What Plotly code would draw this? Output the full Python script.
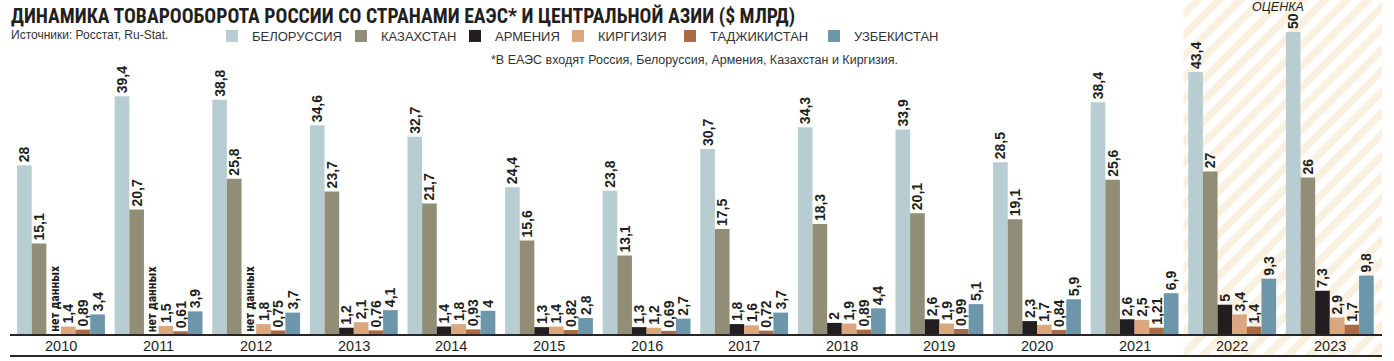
import plotly.graph_objects as go

years = ["2010", "2011", "2012", "2013", "2014", "2015", "2016",
         "2017", "2018", "2019", "2020", "2021", "2022", "2023"]
series_names = ["БЕЛОРУССИЯ", "КАЗАХСТАН", "АРМЕНИЯ", "КИРГИЗИЯ", "ТАДЖИКИСТАН", "УЗБЕКИСТАН"]
belarus = [28, 39.4, 38.8, 34.6, 32.7, 24.4, 23.8, 30.7, 34.3, 33.9, 28.5, 38.4, 43.4, 50]
kazakhstan = [15.1, 20.7, 25.8, 23.7, 21.7, 15.6, 13.1, 17.5, 18.3, 20.1, 19.1, 25.6, 27, 26]
armenia = [None, None, None, 1.2, 1.4, 1.3, 1.3, 1.8, 2, 2.6, 2.3, 2.6, 5, 7.3]
kyrgyzstan = [1.4, 1.5, 1.8, 2.1, 1.8, 1.4, 1.2, 1.6, 1.9, 1.9, 1.7, 2.5, 3.4, 2.9]
tajikistan = [0.89, 0.61, 0.75, 0.76, 0.93, 0.82, 0.69, 0.72, 0.89, 0.99, 0.84, 1.21, 1.4, 1.7]
uzbekistan = [3.4, 3.9, 3.7, 4.1, 4, 2.8, 2.7, 3.7, 4.4, 5.1, 5.9, 6.9, 9.3, 9.8]
no_data_label = "нет данных"
estimate_label = "ОЦЕНКА"
estimate_years = ["2022", "2023"]

title = "ДИНАМИКА ТОВАРООБОРОТА РОССИИ СО СТРАНАМИ ЕАЭС* И ЦЕНТРАЛЬНОЙ АЗИИ ($ МЛРД)"
source = "Источники: Росстат, Ru-Stat."
footnote = "*В ЕАЭС входят Россия, Белоруссия, Армения, Казахстан и Киргизия."

colors = ["#b8cdd2", "#918d76", "#221e1f", "#d9a881", "#a76b47", "#6e96aa"]
all_series = [belarus, kazakhstan, armenia, kyrgyzstan, tajikistan, uzbekistan]

W, H = 1394, 361
ML, MR, MT, MB = 10, 12, 0, 4
PW = W - ML - MR
PH = H - MT - MB

X_RANGE = [-0.5225, 13.535]
Y_RANGE = [-3.63, 55.28]
BAR_W = 0.15
TXT = "#231f20"
NARROW = "Liberation Sans Narrow, Arial Narrow, Roboto Condensed, DejaVu Sans Condensed, sans-serif"
REG = "Liberation Sans, Arial, sans-serif"
LEGEND_SWATCH_LEFT = [228, 357, 471, 574, 686, 830]


def px(xp):
    return (xp - ML) / PW


def py(yp):
    return (H - MB - yp) / PH


def fmt(v):
    if v is None:
        return ""
    return f"{v:g}".replace(".", ",")


fig = go.Figure()

# hatched "estimate" background
est_idx = [years.index(y) for y in estimate_years]
x0 = min(est_idx) - 0.5
x1 = X_RANGE[1]
fig.add_trace(go.Bar(
    x=[(x0 + x1) / 2], y=[Y_RANGE[1] - Y_RANGE[0]], base=[Y_RANGE[0]],
    width=[x1 - x0],
    marker=dict(color="white", line=dict(width=0),
                pattern=dict(shape="/", fgcolor="#f5e1bf", bgcolor="white",
                             size=15, solidity=0.5, fillmode="overlay")),
    showlegend=False, hoverinfo="skip",
))

xs = list(range(len(years)))
legends = {}
annotations = []
for k, (name, vals, col) in enumerate(zip(series_names, all_series, colors)):
    lname = "legend" if k == 0 else f"legend{k + 1}"
    off = -0.45 + BAR_W * k
    fig.add_trace(go.Bar(
        x=xs,
        y=[0 if v is None else v for v in vals],
        name=name,
        legend=lname,
        width=BAR_W,
        offset=off,
        marker=dict(color=col, line=dict(width=0)),
        text=[fmt(v) for v in vals],
        textposition="outside",
        textangle=-90,
        constraintext="none",
        cliponaxis=False,
        textfont=dict(family=REG, size=14, color=TXT, weight="bold"),
    ))
    legends[lname] = dict(
        orientation="h", x=px(LEGEND_SWATCH_LEFT[k] - 16), y=py(36),
        xanchor="left", yanchor="middle",
        font=dict(family=REG, size=13, color="#333333"),
        bgcolor="rgba(0,0,0,0)", borderwidth=0,
        itemclick=False, itemdoubleclick=False,
    )
    # "no data" markers
    for i, v in enumerate(vals):
        if v is None:
            annotations.append(dict(
                x=i + off + BAR_W / 2, y=0, xref="x", yref="y", text=no_data_label,
                showarrow=False, textangle=-90, xanchor="center", yanchor="bottom",
                yshift=1, font=dict(family=NARROW, size=13.5, color=TXT, weight="bold")))

# year labels
for i, y in enumerate(years):
    annotations.append(dict(x=i, y=py(346), xref="x", yref="paper", text=y,
                            showarrow=False, xanchor="center", yanchor="middle",
                            font=dict(family=REG, size=14.5, color=TXT)))
annotations += [
    dict(x=px(9), y=py(2), xref="paper", yref="paper", text=f"<b>{title}</b>",
         showarrow=False, xanchor="left", yanchor="top",
         font=dict(family=NARROW, size=19.7, color=TXT)),
    dict(x=px(9), y=py(35), xref="paper", yref="paper", text=source,
         showarrow=False, xanchor="left", yanchor="middle",
         font=dict(family=REG, size=12, color="#333333")),
    dict(x=px(489), y=py(60), xref="paper", yref="paper", text=footnote,
         showarrow=False, xanchor="left", yanchor="middle",
         font=dict(family=REG, size=12.5, color="#333333")),
    dict(x=(x0 + x1) / 2 - 0.05, y=py(7), xref="x", yref="paper", text=f"<i>{estimate_label}</i>",
         showarrow=False, xanchor="center", yanchor="middle",
         font=dict(family=REG, size=12.5, color=TXT)),
]

shapes = [
    dict(type="line", xref="paper", yref="y", x0=0, x1=1, y0=0, y1=0,
         line=dict(color="#2a2627", width=2)),
    dict(type="line", xref="paper", yref="paper", x0=0, x1=1, y0=py(356), y1=py(356),
         line=dict(color="#2a2627", width=2)),
]

fig.update_layout(
    width=W, height=H, autosize=False,
    margin=dict(l=ML, r=MR, t=MT, b=MB, pad=0),
    paper_bgcolor="white", plot_bgcolor="white",
    barmode="overlay",
    xaxis=dict(range=X_RANGE, visible=False, fixedrange=True),
    yaxis=dict(range=Y_RANGE, visible=False, fixedrange=True),
    showlegend=True,
    annotations=annotations,
    shapes=shapes,
    **legends,
)

fig.write_html("out.html", config={"displayModeBar": False},
               post_script="document.body.style.margin='0';document.body.style.overflow='hidden';")
